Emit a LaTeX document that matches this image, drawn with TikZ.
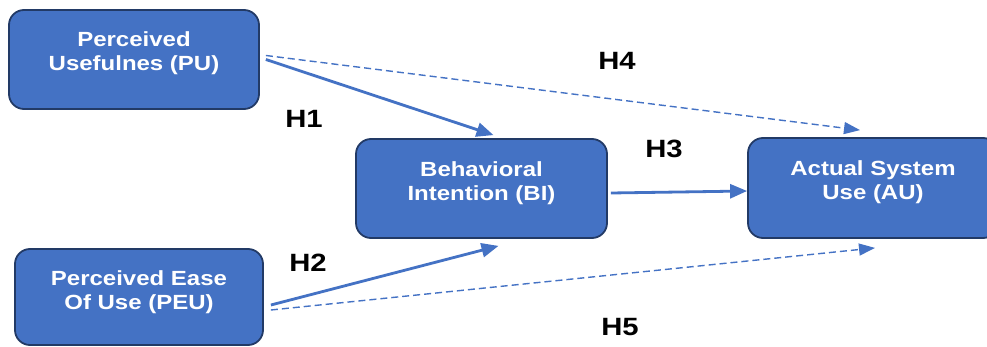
\documentclass[tikz,border=0pt]{standalone}
\usepackage{fontspec}
\setmainfont{Liberation Sans}[FakeStretch=1.17]
\usetikzlibrary{arrows.meta}
\definecolor{boxfill}{HTML}{4472C4}
\definecolor{boxline}{HTML}{223A66}
\definecolor{arrcol}{HTML}{4472C4}
\tikzset{
  box/.style={draw=boxline, line width=1.8pt, fill=boxfill, rounded corners=15pt, inner sep=0pt},
  boxtext/.style={text=white, font=\bfseries\fontsize{20.5}{24}\selectfont, align=center},
  hyp/.style={font=\bfseries\fontsize{25}{28}\selectfont, text=black},
  solidarrow/.style={draw=arrcol, line width=2.8pt, -{Triangle[length=17pt,width=14pt]}},
  dasharrow/.style={draw=arrcol, line width=1.4pt, dash pattern=on 7pt off 4pt, -{Triangle[length=16pt,width=12pt]}},
}
\begin{document}
\begin{tikzpicture}[x=1pt,y=-1pt]
\useasboundingbox (0,0) rectangle (987,347);
\node[box, minimum width=250pt, minimum height=99pt,
  label={[boxtext, yshift=6pt]center:Perceived\\Usefulnes (PU)}] (PU) at (134,59.5) {};
\node[box, minimum width=248pt, minimum height=96pt,
  label={[boxtext, yshift=5pt]center:Perceived Ease\\Of Use (PEU)}] (PEU) at (139,297) {};
\node[box, minimum width=251pt, minimum height=99pt,
  label={[boxtext, yshift=5pt]center:Behavioral\\Intention (BI)}] (BI) at (481.5,188.5) {};
\node[box, minimum width=250pt, minimum height=100pt,
  label={[boxtext, yshift=6pt]center:Actual System\\Use (AU)}] (AU) at (873,188) {};

\draw[solidarrow] ([shift={(6,0)}]PU.east) -- ([shift={(12,-3)}]BI.north);
\draw[dasharrow] ([shift={(6,-4)}]PU.east) -- ([shift={(-13,-7)}]AU.north);
\draw[solidarrow] ([shift={(7,8)}]PEU.east) -- ([shift={(17,7)}]BI.south);
\draw[dasharrow] ([shift={(7,13)}]PEU.east) -- ([shift={(2,9)}]AU.south);
\draw[solidarrow] ([shift={(3,4.5)}]BI.east) -- ([shift={(0,3)}]AU.west);

\node[hyp] (H1) at (304,119) {H1};
\node[hyp] (H2) at (308,263) {H2};
\node[hyp] (H3) at (664,149) {H3};
\node[hyp] (H4) at (617,61) {H4};
\node[hyp] (H5) at (620,327) {H5};
\end{tikzpicture}
\end{document}
